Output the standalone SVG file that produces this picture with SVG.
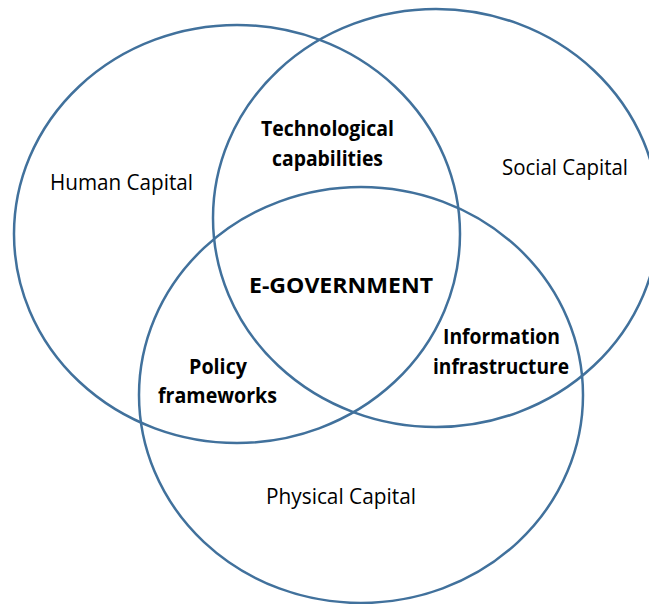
<svg xmlns="http://www.w3.org/2000/svg" width="649" height="604" viewBox="0 0 649 604">
<style>
.c{fill:none;stroke:#41719C;stroke-width:2.5}
.r{font-family:"Open Sans","Liberation Sans",sans-serif;font-size:21px;fill:#000;text-anchor:middle}
.b{font-family:"Open Sans","Liberation Sans",sans-serif;font-size:21px;font-weight:bold;fill:#000;text-anchor:middle}
</style>
<rect width="649" height="604" fill="#fff"/>
<g id="human-capital">
<ellipse class="c" cx="237" cy="234" rx="223" ry="209"/>
<text class="r" x="121.5" y="190" textLength="143" lengthAdjust="spacingAndGlyphs">Human Capital</text>
</g>
<g id="social-capital">
<ellipse class="c" cx="436" cy="218" rx="223" ry="209"/>
<text class="r" x="565" y="175" textLength="126" lengthAdjust="spacingAndGlyphs">Social Capital</text>
</g>
<g id="physical-capital">
<ellipse class="c" cx="361" cy="395" rx="222" ry="208"/>
<text class="r" x="341" y="504" textLength="150" lengthAdjust="spacingAndGlyphs">Physical Capital</text>
</g>
<g id="technological-capabilities">
<text class="b" x="327.5" y="136" textLength="133" lengthAdjust="spacingAndGlyphs">Technological</text>
<text class="b" x="327.5" y="166" textLength="111" lengthAdjust="spacingAndGlyphs">capabilities</text>
</g>
<g id="e-government">
<text class="b" x="341" y="293" style="font-size:22px" textLength="184" lengthAdjust="spacingAndGlyphs">E-GOVERNMENT</text>
</g>
<g id="information-infrastructure">
<text class="b" x="501.5" y="344" textLength="117" lengthAdjust="spacingAndGlyphs">Information</text>
<text class="b" x="501" y="374" textLength="136" lengthAdjust="spacingAndGlyphs">infrastructure</text>
</g>
<g id="policy-frameworks">
<text class="b" x="218" y="374" textLength="58" lengthAdjust="spacingAndGlyphs">Policy</text>
<text class="b" x="217.5" y="403" textLength="119" lengthAdjust="spacingAndGlyphs">frameworks</text>
</g>
<g id="connectors"></g>
</svg>
